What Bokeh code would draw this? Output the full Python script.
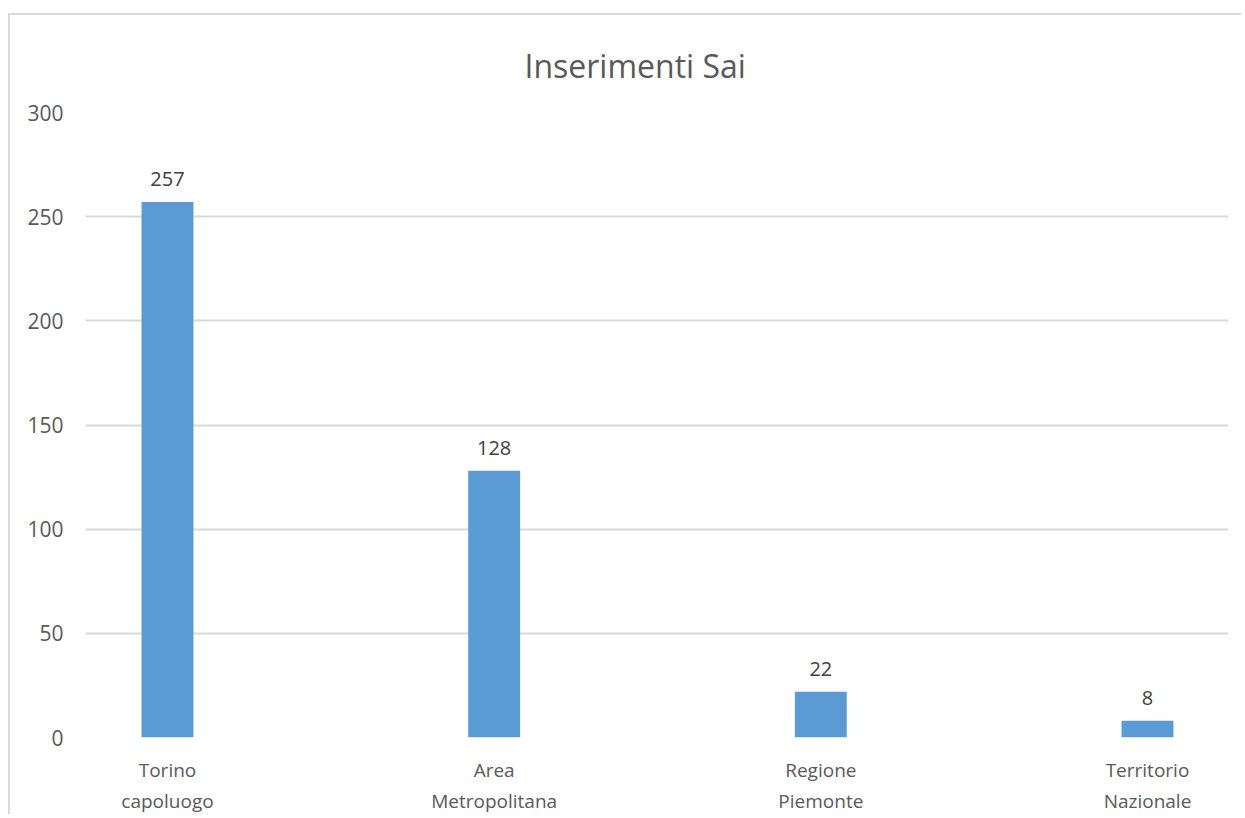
from bokeh.plotting import figure
from bokeh.models import ColumnDataSource, Range1d, FixedTicker, LabelSet
from bokeh.embed import file_html
from bokeh.resources import INLINE
from bokeh.core.properties import value

categories = ["Torino\ncapoluogo", "Area\nMetropolitana", "Regione\nPiemonte", "Territorio\nNazionale"]
values = [257, 128, 22, 8]
y_ticks = [0, 50, 100, 150, 200, 250, 300]

xs = list(range(len(categories)))
src = ColumnDataSource(dict(x=xs, top=values, label=[str(v) for v in values]))

FONT = "Open Sans"

p = figure(width=1233, height=801, output_backend="svg", toolbar_location=None,
           x_range=Range1d(-0.251, 3.248), y_range=Range1d(0, 300),
           min_border_left=75, min_border_right=15, min_border_top=96, min_border_bottom=10)
p.styles = {"border-top": "2px solid #d9d9d9", "border-left": "2px solid #d9d9d9", "margin-top": "13px", "margin-left": "8px"}
p.outline_line_color = None
p.background_fill_color = "white"
p.border_fill_color = "white"

p.title.text = "Inserimenti Sai"
p.title.align = "left"
p.title.offset = 439
p.title.text_font = FONT
p.title.text_font_size = "32px"
p.title.text_font_style = "normal"
p.title.text_color = "#595959"
p.title.standoff = 52

p.vbar(x="x", top="top", width=0.159, source=src, color="#5B9BD5", line_color=None)

labels = LabelSet(x="x", y="top", text="label", source=src, text_align="center",
                  text_baseline="bottom", y_offset=16, text_font=value(FONT),
                  text_font_size="20px", text_color="#404040")
p.add_layout(labels)

p.xgrid.grid_line_color = None
p.ygrid.grid_line_color = "#d9d9d9"
p.ygrid.grid_line_width = 2
p.ygrid.ticker = FixedTicker(ticks=y_ticks)

p.yaxis.ticker = FixedTicker(ticks=y_ticks)
p.yaxis.axis_line_color = None
p.yaxis.major_tick_line_color = None
p.yaxis.minor_tick_line_color = None
p.yaxis.major_label_standoff = 16
p.yaxis.major_label_text_font = FONT
p.yaxis.major_label_text_font_size = "21px"
p.yaxis.major_label_text_color = "#595959"

p.xaxis.ticker = FixedTicker(ticks=xs)
p.xaxis.major_label_overrides = {i: c for i, c in zip(xs, categories)}
p.xaxis.axis_line_color = None
p.xaxis.major_tick_line_color = None
p.xaxis.minor_tick_line_color = None
p.xaxis.major_label_standoff = 13
p.xaxis.major_label_text_font = FONT
p.xaxis.major_label_text_font_size = "19px"
p.xaxis.major_label_text_color = "#595959"

open("out.html", "w").write(file_html(p, INLINE))
